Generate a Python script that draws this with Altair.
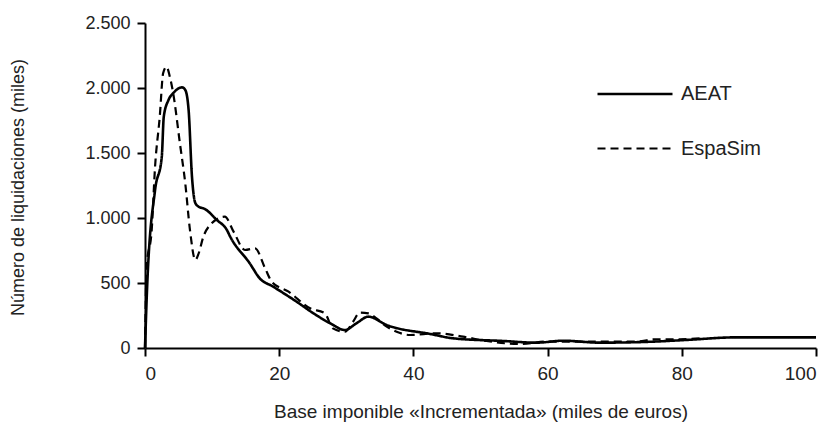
import altair as alt
import pandas as pd

# Data (x: miles de euros, y: miles de liquidaciones)
aeat_x = [0, 0.3, 1.5, 2.5, 2.8, 3.5, 4.2, 5.5, 6.0, 6.5, 7.0, 7.5, 8.0, 8.9, 10.7, 12.2, 12.7,
          15.6, 17.1, 19.1, 22.6, 25.1, 27.6, 29.8, 31.5, 33.3, 36.0, 42.5, 46, 53.4, 58.4, 62.3,
          67.8, 75.8, 80.7, 88.2, 100]
aeat_y = [0, 446, 1215, 1470, 1780, 1908, 1960, 2005, 1985, 1830, 1318, 1115, 1087, 1070, 985, 908, 856,
          652, 536, 472, 356, 267, 190, 138, 190, 241, 177, 108, 74, 54, 41, 56,
          41, 49, 62, 82, 82]

espa_x = [0, 0.25, 1.0, 1.5, 2.2, 2.7, 3.2, 3.7, 4.2, 5.2, 6.0, 6.7, 7.5, 8.0, 8.7, 9.7, 11.9, 13.2,
          14.9, 16.4, 17.9, 18.9, 21.4, 24.6, 26.8, 28.0, 29.8, 31.0, 32.0, 33.3, 34.5, 35.8, 37.5,
          39.5, 43.5, 47.4, 50.9, 55.9, 59.9, 65.8, 73.3, 75.8, 79.7, 83.2]
espa_y = [0, 625, 908, 1395, 1780, 2113, 2164, 2087, 1960, 1575, 1267, 908, 677, 728, 856, 946, 1010, 895,
          754, 767, 613, 510, 433, 305, 267, 151, 125, 202, 272, 267, 228, 172, 125,
          100, 113, 87, 54, 31, 49, 49, 49, 67, 67, 77]

series = ["AEAT", "EspaSim"]
x_ticks = [0, 20, 40, 60, 80, 100]
y_ticks = [0, 500, 1000, 1500, 2000, 2500]

df = pd.concat([
    pd.DataFrame({"x": aeat_x, "y": aeat_y, "serie": series[0], "ord": range(len(aeat_x))}),
    pd.DataFrame({"x": espa_x, "y": espa_y, "serie": series[1], "ord": range(len(espa_x))}),
])

FONT = "Liberation Sans"

legend = alt.Legend(
    title=None, orient="none", legendX=451, legendY=32, padding=0,
    symbolType="stroke", symbolSize=5625, labelOffset=7,
    labelFont=FONT, labelFontSize=20, labelColor="#222222", labelLimit=200,
)

chart = alt.Chart(df).mark_line(interpolate="monotone").encode(
    x=alt.X("x:Q", scale=alt.Scale(domain=[0, 100], nice=False),
            axis=alt.Axis(values=x_ticks, title="Base imponible «Incrementada» (miles de euros)",
                          labelFontSize=19, labelPadding=8, titleY=69, titleBaseline="alphabetic",
                          titleFontSize=19)),
    y=alt.Y("y:Q", scale=alt.Scale(domain=[0, 2500], nice=False),
            axis=alt.Axis(values=y_ticks, title="Número de liquidaciones (miles)",
                          labelExpr="replace(format(datum.value, ','), ',', '.')",
                          labelFontSize=18, labelPadding=7, titleAngle=-90, titleX=-127, titleY=164,
                          titleAlign="center", titleBaseline="middle", titleFontSize=18)),
    color=alt.Color("serie:N", scale=alt.Scale(domain=series, range=["#000000", "#000000"]), legend=legend),
    strokeDash=alt.StrokeDash("serie:N", scale=alt.Scale(domain=series, range=[[1, 0], [8, 5]]), legend=legend),
    strokeWidth=alt.StrokeWidth("serie:N", scale=alt.Scale(domain=series, range=[2.6, 2.2]), legend=legend),
    order="ord:Q",
).properties(
    width=671, height=325,
    autosize=alt.AutoSizeParams(type="none"),
    padding={"left": 137, "top": 15, "right": 12, "bottom": 90},
).configure_view(stroke=None).configure_axis(
    grid=False, domainColor="#000000", domainWidth=2, tickColor="#000000", tickWidth=2, tickSize=8,
    labelFont=FONT, titleFont=FONT, labelColor="#222222", titleColor="#222222", titleFontWeight="normal",
).configure_legend(rowPadding=5.5)

chart.save("out.html", embed_options={"renderer": "svg", "actions": False})
